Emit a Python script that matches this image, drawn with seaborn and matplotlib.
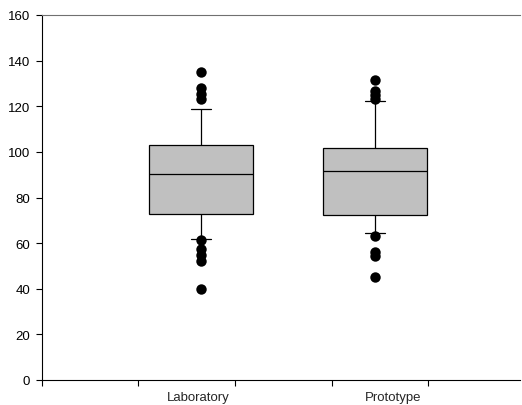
import numpy as np
import pandas as pd
import seaborn as sns
import matplotlib.pyplot as plt

groups = ["Laboratory", "Prototype"]

# box summaries: lower whisker, Q1, median, Q3, upper whisker
lab_summary = [61.8, 72.8, 90.3, 103.2, 118.8]
proto_summary = [64.4, 72.3, 91.8, 101.7, 122.2]

# points drawn beyond the whiskers
lab_outliers = [134.9, 127.9, 125.4, 123.2, 61.5, 57.4, 54.8, 52.3, 40.0]
proto_outliers = [131.7, 126.8, 125.0, 123.2, 63.0, 56.1, 54.4, 45.0]

y_ticks = [0, 20, 40, 60, 80, 100, 120, 140, 160]

box_df = pd.DataFrame({
    "group": [groups[0]] * len(lab_summary) + [groups[1]] * len(proto_summary),
    "value": lab_summary + proto_summary,
})
out_df = pd.DataFrame({
    "group": [groups[0]] * len(lab_outliers) + [groups[1]] * len(proto_outliers),
    "value": lab_outliers + proto_outliers,
})

sns.set_style("ticks")
plt.rcParams['font.family'] = ['Liberation Sans', 'DejaVu Sans']

fig = plt.figure(figsize=(5.22, 4.06), dpi=100)
ax = fig.add_axes([42 / 522, 1 - 381 / 406, (520 - 42) / 522, (381 - 16) / 406])

# whiskers at min/max of the summary -> exactly the five numbers above
sns.boxplot(data=box_df, x="group", y="value", order=groups, whis=(0, 100),
            showfliers=False, width=0.6, color="#c0c0c0", saturation=1,
            linecolor="black", linewidth=0.9, capwidths=0.12, ax=ax)
sns.stripplot(data=out_df, x="group", y="value", order=groups, jitter=False,
              color="black", size=7.5, linewidth=0, ax=ax)

ax.set_xlim(-0.914, 1.833)
ax.set_ylim(0, 160)
ax.set_yticks(y_ticks)
ax.set_xlabel("")
ax.set_ylabel("")

# tick marks sit between the boxes, names sit under them
ax.set_xticks([-0.914, -0.362, 0.195, 0.753, 1.305], labels=[""] * 5)
ax.set_xticks([-0.017, 1.103], labels=groups, minor=True)

ax.tick_params(axis="both", which="major", direction="out", length=4.5, width=0.8,
               color="black", labelsize=9.5, labelcolor="black", pad=4)
ax.tick_params(axis="x", which="minor", length=0, labelsize=9.5, pad=8)

for side in ["left", "bottom"]:
    ax.spines[side].set_color("black")
    ax.spines[side].set_linewidth(0.8)
ax.spines["top"].set_color("#707070")
ax.spines["top"].set_linewidth(0.8)
ax.spines["right"].set_visible(False)

plt.savefig("out.png", dpi=100)
